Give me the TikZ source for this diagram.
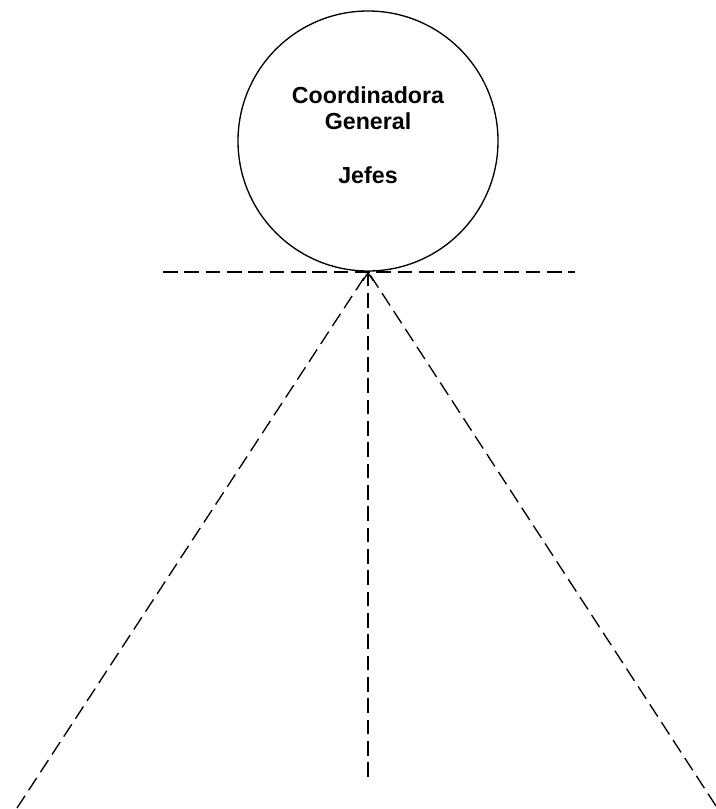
\documentclass[tikz,border=0pt]{standalone}
\usepackage{fontspec}
\setmainfont{Liberation Sans}
\usetikzlibrary{arrows.meta}

\begin{document}
\begin{tikzpicture}[x=0.75pt,y=-0.75pt,
    dashline/.style = {line width=1pt, dash pattern=on 11pt off 5pt},
    arrow/.style = {dashline, -{Straight Barb[length=6pt,width=8pt]}},
    boss/.style = {circle, draw, line width=1pt, minimum size=195pt,
                   inner sep=0pt, align=center, text depth=9pt,
                   font=\bfseries\fontsize{17.4}{19.5}\selectfont}]
    \useasboundingbox (0,0) rectangle (716,809);

    % top circle
    \node [boss] (coord) at (368,141) {Coordinadora\\General\\[21pt]Jefes};
    \coordinate (apex) at (coord.south);

    % horizontal line under the circle
    \coordinate (hleft) at (163,272);
    \coordinate (hright) at (575,272);
    \draw[dashline] (hleft) -- (hright);

    % lines up to the circle
    \coordinate (leftend) at (17,808);
    \coordinate (midend) at (368,777);
    \coordinate (rightend) at (716,806);

    \draw[dashline] (leftend) -- (apex);
    \draw[dashline] (rightend) -- (apex);
    \draw[arrow] (midend) -- (apex);
\end{tikzpicture}
\end{document}
